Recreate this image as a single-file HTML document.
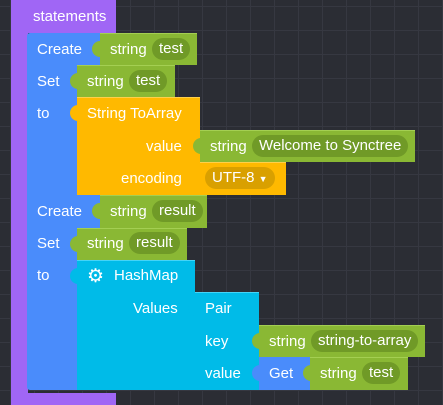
<!DOCTYPE html>
<html><head><meta charset="utf-8"><style>
html,body{margin:0;padding:0}
body{width:443px;height:405px;overflow:hidden;position:relative;background-color:#2b2d34;
background-image:linear-gradient(#363841 1px,transparent 1px),linear-gradient(90deg,#363841 1px,transparent 1px);background-size:24px 24px;background-position:10px 6px;
font-family:"Liberation Sans",sans-serif;font-size:15px;color:#fff}
.b{position:absolute;box-sizing:border-box}
.t{position:absolute;white-space:nowrap;line-height:16px}
.pu{background:#a066f5}.bl{background:#4a8cfb}.gr{background:#8ab834;border-top:1px solid #a4cf52}
.or{background:#ffb900;border-top:1px solid #ffd04a}.cy{background:#00bbe8;border-top:1px solid #44d4f8}
.pill{position:absolute;background:#709a27;border-radius:11px;height:22px;line-height:22px;padding:0 7px;white-space:nowrap;box-sizing:border-box}
.tab{position:absolute;width:8px;height:16px;border-radius:8px 0 0 8px}
</style></head><body>
<div class="b pu" style="left:11px;top:0;width:105px;height:33px"></div>
<div class="b pu" style="left:11px;top:0;width:17px;height:405px"></div>
<div class="b pu" style="left:11px;top:393px;width:105px;height:12px"></div>
<div class="t" style="left:33px;top:9px">statements</div>

<div class="b bl" style="left:27px;top:33px;width:74px;height:32px;border-radius:3px 0 0 0"></div>
<div class="t" style="left:37px;top:42px">Create</div>
<div class="b gr" style="left:100px;top:33px;width:97px;height:32px"></div>
<div class="tab gr" style="left:92px;top:41px;border-top:none"></div>
<div class="t" style="left:110px;top:42px">string</div>
<div class="pill" style="left:152px;top:38px">test</div>

<div class="b bl" style="left:27px;top:65px;width:50px;height:130px"></div>
<div class="t" style="left:37px;top:74px">Set</div>
<div class="t" style="left:37px;top:106px">to</div>
<div class="b gr" style="left:77px;top:65px;width:98px;height:32px"></div>
<div class="tab gr" style="left:70px;top:73px;border-top:none"></div>
<div class="t" style="left:87px;top:74px">string</div>
<div class="pill" style="left:129px;top:70px">test</div>
<div class="b or" style="left:77px;top:97px;width:123px;height:98px"></div>
<div class="tab or" style="left:70px;top:105px;border-top:none"></div>
<div class="t" style="left:87px;top:106px">String ToArray</div>
<div class="t" style="left:146px;top:139px">value</div>
<div class="t" style="left:121px;top:171px">encoding</div>
<div class="b gr" style="left:200px;top:130px;width:215px;height:32px"></div>
<div class="tab gr" style="left:193px;top:138px;border-top:none"></div>
<div class="t" style="left:210px;top:139px">string</div>
<div class="pill" style="left:252px;top:135px">Welcome to Synctree</div>
<div class="b or" style="left:200px;top:162px;width:86px;height:33px"></div>
<div class="pill" style="left:205px;top:167px;background:#d9a000">UTF-8 <span style="font-size:9px">▼</span></div>

<div class="b bl" style="left:27px;top:195px;width:74px;height:33px"></div>
<div class="t" style="left:37px;top:204px">Create</div>
<div class="b gr" style="left:100px;top:195px;width:107px;height:33px"></div>
<div class="tab gr" style="left:92px;top:203px;border-top:none"></div>
<div class="t" style="left:110px;top:204px">string</div>
<div class="pill" style="left:152px;top:200px">result</div>

<div class="b bl" style="left:27px;top:228px;width:50px;height:162px;border-radius:0 0 0 3px"></div>
<div class="t" style="left:37px;top:236px">Set</div>
<div class="t" style="left:37px;top:268px">to</div>
<div class="b gr" style="left:77px;top:228px;width:110px;height:32px"></div>
<div class="tab gr" style="left:70px;top:236px;border-top:none"></div>
<div class="t" style="left:87px;top:236px">string</div>
<div class="pill" style="left:129px;top:232px">result</div>
<div class="b cy" style="left:77px;top:260px;width:118px;height:130px"></div>
<div class="tab cy" style="left:70px;top:268px;border-top:none"></div>
<div class="t" style="left:87px;top:267px;font-size:19px;line-height:19px">⚙</div>
<div class="t" style="left:114px;top:268px">HashMap</div>
<div class="t" style="left:133px;top:301px">Values</div>
<div class="b cy" style="left:195px;top:292px;width:64px;height:98px"></div>
<div class="tab cy" style="left:188px;top:300px;border-top:none"></div>
<div class="t" style="left:205px;top:301px">Pair</div>
<div class="t" style="left:205px;top:334px">key</div>
<div class="t" style="left:205px;top:366px">value</div>
<div class="b gr" style="left:259px;top:325px;width:166px;height:32px"></div>
<div class="tab gr" style="left:252px;top:333px;border-top:none"></div>
<div class="t" style="left:269px;top:334px">string</div>
<div class="pill" style="left:311px;top:330px">string-to-array</div>
<div class="b bl" style="left:259px;top:357px;width:52px;height:33px"></div>
<div class="tab bl" style="left:252px;top:365px"></div>
<div class="t" style="left:269px;top:366px">Get</div>
<div class="b gr" style="left:310px;top:357px;width:98px;height:33px"></div>
<div class="tab gr" style="left:303px;top:365px;border-top:none"></div>
<div class="t" style="left:320px;top:366px">string</div>
<div class="pill" style="left:362px;top:362px">test</div>
</body></html>
